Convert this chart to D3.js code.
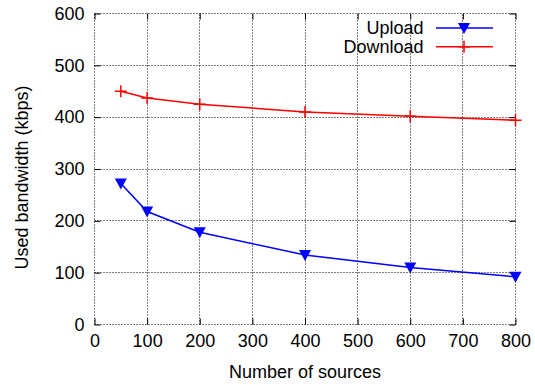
<!DOCTYPE html>
<html>
<head>
<meta charset="utf-8">
<script src="https://cdn.jsdelivr.net/npm/d3@7"></script>
<style>
  body { margin: 0; background: #fff; }
  svg { font-family: "Liberation Sans", Arial, sans-serif; }
</style>
</head>
<body>
<svg id="chart" width="535" height="385"></svg>
<script>
// values
const sources = [50, 100, 200, 400, 600, 800];
const upload = [272, 218, 178, 134, 110, 92];
const download = [450, 437, 425, 410, 402, 394];
const xTicks = [0, 100, 200, 300, 400, 500, 600, 700, 800];
const yTicks = [0, 100, 200, 300, 400, 500, 600];

const svg = d3.select("#chart");
const plotLeft = 94.5, plotRight = 515.5, plotTop = 13.5, plotBottom = 324.5;

const x = d3.scaleLinear().domain([0, 800]).range([plotLeft, plotRight]);
const y = d3.scaleLinear().domain([0, 600]).range([plotBottom, plotTop]);

// dotted grid, border is dotted too
const grid = svg.append("g");
grid.selectAll(".gx").data(xTicks).enter().append("line")
  .attr("x1", d => Math.round(x(d) - 0.5) + 0.5).attr("x2", d => Math.round(x(d) - 0.5) + 0.5)
  .attr("y1", plotBottom).attr("y2", plotTop)
  .attr("stroke", "#000").attr("stroke-width", 1).attr("stroke-dasharray", "1,2");
grid.selectAll(".gy").data(yTicks).enter().append("line")
  .attr("x1", plotLeft).attr("x2", plotRight)
  .attr("y1", d => Math.round(y(d) - 0.5) + 0.5).attr("y2", d => Math.round(y(d) - 0.5) + 0.5)
  .attr("stroke", "#000").attr("stroke-width", 1).attr("stroke-dasharray", "1,2");

// axes (ticks inward, mirrored)
const fs = "18px";
svg.append("g").attr("transform", `translate(0,${plotBottom})`)
  .call(d3.axisBottom(x).tickValues(xTicks).tickSize(-6).tickPadding(10).tickSizeOuter(0))
  .call(g => g.select(".domain").remove())
  .call(g => g.selectAll("text").attr("font-size", fs).attr("fill", "#000").style("font-family", "Liberation Sans, Arial, sans-serif"));
svg.append("g").attr("transform", `translate(0,${plotTop})`)
  .call(d3.axisTop(x).tickValues(xTicks).tickSize(-6).tickFormat("").tickSizeOuter(0))
  .call(g => g.select(".domain").remove());
svg.append("g").attr("transform", `translate(${plotLeft},0)`)
  .call(d3.axisLeft(y).tickValues(yTicks).tickSize(-6).tickPadding(10).tickSizeOuter(0))
  .call(g => g.select(".domain").remove())
  .call(g => g.selectAll("text").attr("font-size", fs).attr("fill", "#000").style("font-family", "Liberation Sans, Arial, sans-serif"));
svg.append("g").attr("transform", `translate(${plotRight},0)`)
  .call(d3.axisRight(y).tickValues(yTicks).tickSize(-6).tickFormat("").tickSizeOuter(0))
  .call(g => g.select(".domain").remove());

// axis titles
svg.append("text")
  .attr("x", (plotLeft + plotRight) / 2).attr("y", 377.5)
  .attr("text-anchor", "middle").attr("font-size", fs)
  .text("Number of sources");
svg.append("text")
  .attr("transform", `translate(28,177.5) rotate(-90)`)
  .attr("text-anchor", "middle").attr("font-size", fs)
  .text("Used bandwidth (kbps)");

// series
const line = d3.line().x(d => x(d[0])).y(d => y(d[1]));
const upPts = sources.map((s, i) => [s, upload[i]]);
const downPts = sources.map((s, i) => [s, download[i]]);

const tri = "M-6,-5L6,-5L0,6Z";
const plus = "M-6,0L6,0M0,-6L0,6";

svg.append("path").datum(downPts).attr("d", line)
  .attr("fill", "none").attr("stroke", "#ff0000").attr("stroke-width", 1.5);
svg.selectAll(".dm").data(downPts).enter().append("path")
  .attr("transform", d => `translate(${x(d[0])},${y(d[1])})`)
  .attr("d", plus).attr("stroke", "#ff0000").attr("stroke-width", 1.5).attr("fill", "none");

svg.append("path").datum(upPts).attr("d", line)
  .attr("fill", "none").attr("stroke", "#0000ff").attr("stroke-width", 1.5);
svg.selectAll(".um").data(upPts).enter().append("path")
  .attr("transform", d => `translate(${x(d[0])},${y(d[1])})`)
  .attr("d", tri).attr("fill", "#0000ff");

// legend
const legend = [
  { name: "Upload", color: "#0000ff", mark: tri, filled: true, yy: 28 },
  { name: "Download", color: "#ff0000", mark: plus, filled: false, yy: 46.7 }
];
legend.forEach(l => {
  svg.append("text").attr("x", 423.5).attr("y", l.yy + 6.2)
    .attr("text-anchor", "end").attr("font-size", fs).text(l.name);
  svg.append("line").attr("x1", 436).attr("x2", 493)
    .attr("y1", l.yy).attr("y2", l.yy)
    .attr("stroke", l.color).attr("stroke-width", 1.5);
  svg.append("path").attr("transform", `translate(464,${l.yy})`)
    .attr("d", l.mark)
    .attr("fill", l.filled ? l.color : "none")
    .attr("stroke", l.filled ? "none" : l.color).attr("stroke-width", 1.5);
});
</script>
</body>
</html>
